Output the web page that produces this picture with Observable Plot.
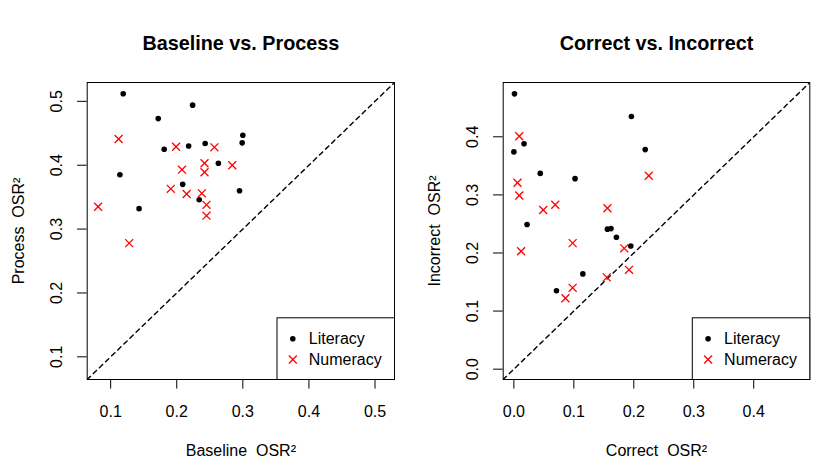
<!DOCTYPE html>
<html>
<head>
<meta charset="utf-8">
<script src="https://cdn.jsdelivr.net/npm/d3@7"></script>
<script src="https://cdn.jsdelivr.net/npm/@observablehq/plot@0.6"></script>
<style>
  html, body { margin: 0; padding: 0; background: white; }
  #wrap { display: flex; flex-direction: row; width: 830px; height: 467px; }
</style>
</head>
<body>
<div id="wrap"></div>
<script>
// ---- Panel 1: Baseline vs. Process ----
const litBaseline = [0.119, 0.224, 0.172, 0.300, 0.299, 0.181, 0.218, 0.243, 0.263, 0.114, 0.209, 0.295, 0.234, 0.143];
const litProcess  = [0.512, 0.494, 0.473, 0.447, 0.435, 0.425, 0.430, 0.434, 0.403, 0.385, 0.370, 0.360, 0.346, 0.332];
const numBaseline = [0.112, 0.199, 0.257, 0.242, 0.284, 0.208, 0.242, 0.191, 0.215, 0.238, 0.245, 0.081, 0.245, 0.128];
const numProcess  = [0.441, 0.429, 0.428, 0.403, 0.400, 0.393, 0.389, 0.363, 0.355, 0.356, 0.338, 0.335, 0.321, 0.278];

// ---- Panel 2: Correct vs. Incorrect ----
const litCorrect   = [0.001, 0.196, 0.017, 0.000, 0.219, 0.044, 0.102, 0.022, 0.156, 0.162, 0.171, 0.195, 0.115, 0.071];
const litIncorrect = [0.474, 0.435, 0.388, 0.374, 0.378, 0.337, 0.328, 0.249, 0.241, 0.242, 0.227, 0.212, 0.164, 0.135];
const numCorrect   = [0.009, 0.006, 0.009, 0.049, 0.069, 0.225, 0.156, 0.098, 0.012, 0.184, 0.192, 0.155, 0.098, 0.086];
const numIncorrect = [0.401, 0.321, 0.299, 0.274, 0.283, 0.333, 0.277, 0.217, 0.203, 0.208, 0.171, 0.158, 0.140, 0.122];

const ticks1 = [0.1, 0.2, 0.3, 0.4, 0.5];
const ticks2 = [0.0, 0.1, 0.2, 0.3, 0.4];
const domain1 = [0.0645, 0.5295];
const domain2 = [-0.0178, 0.4935];
const legendLabels = ["Literacy", "Numeracy"];

const FONT = "'Liberation Sans', Arial, Helvetica, sans-serif";
const fmt = d3.format(".1f");

function panel({title, xlab, ylab, litX, litY, numX, numY, ticks, domain, marginLeft, marginRight}) {
  const W = 415, H = 467, mt = 82, mb = 88;
  const innerW = W - marginLeft - marginRight;
  const lit = litX.map((x, i) => ({x, y: litY[i]}));
  const num = numX.map((x, i) => ({x, y: numY[i]}));
  const diag = [{v: domain[0]}, {v: domain[1]}];
  return Plot.plot({
    width: W, height: H,
    marginLeft, marginRight, marginTop: mt, marginBottom: mb,
    style: {fontFamily: FONT, fontSize: "16px", color: "black", background: "white", overflow: "visible"},
    x: {domain, nice: false},
    y: {domain, nice: false},
    marks: [
      // reference line y = x
      Plot.line(diag, {x: "v", y: "v", stroke: "black", strokeWidth: 1.4, strokeDasharray: "4.5,4", clip: true}),
      // points
      Plot.dot(lit, {x: "x", y: "y", r: 2.8, fill: "black", stroke: "none"}),
      Plot.dot(num, {x: "x", y: "y", r: 3.7, symbol: "times", stroke: "#ff0000", strokeWidth: 1.3}),
      // plot box
      Plot.frame({stroke: "black", strokeWidth: 1}),
      // axes
      Plot.axisX({ticks, tickSize: 9.6, tickPadding: 17, tickFormat: fmt, fontSize: 16, label: null, stroke: "black"}),
      Plot.axisY({ticks, tickSize: 9.6, tickFormat: () => "", label: null, stroke: "black"}),
      Plot.text(ticks, {y: d => d, text: d => fmt(d), frameAnchor: "left", dx: -25, rotate: -90,
        textAnchor: "middle", lineAnchor: "bottom", fontSize: 16, fill: "black"}),
      // axis titles
      Plot.text([xlab], {frameAnchor: "bottom", dy: 76, lineAnchor: "bottom", textAnchor: "middle", fontSize: 16, fill: "black"}),
      Plot.text([ylab], {frameAnchor: "left", dx: -63, rotate: -90, lineAnchor: "bottom", textAnchor: "middle", fontSize: 16, fill: "black"}),
      // title
      Plot.text([title], {frameAnchor: "top", dy: -33, lineAnchor: "bottom", textAnchor: "middle", fontSize: 19.8, fontWeight: "bold", fill: "black"}),
      // legend box
      Plot.frame({fill: "white", stroke: "black", strokeWidth: 1, insetLeft: innerW - 117.5, insetTop: 235.3}),
      Plot.dot([legendLabels[0]], {frameAnchor: "bottom-right", dx: -101.7, dy: -40.7, r: 2.8, fill: "black", stroke: "none"}),
      Plot.dot([legendLabels[1]], {frameAnchor: "bottom-right", dx: -101.7, dy: -20, r: 3.7, symbol: "times", stroke: "#ff0000", strokeWidth: 1.3}),
      Plot.text([legendLabels[0]], {frameAnchor: "bottom-right", dx: -85.7, dy: -40.7, textAnchor: "start", lineAnchor: "middle", fontSize: 16, fill: "black"}),
      Plot.text([legendLabels[1]], {frameAnchor: "bottom-right", dx: -85.7, dy: -20, textAnchor: "start", lineAnchor: "middle", fontSize: 16, fill: "black"})
    ]
  });
}

const wrap = document.getElementById("wrap");
wrap.appendChild(panel({
  title: "Baseline vs. Process", xlab: "Baseline  OSR²", ylab: "Process  OSR²",
  litX: litBaseline, litY: litProcess, numX: numBaseline, numY: numProcess,
  ticks: ticks1, domain: domain1, marginLeft: 86.7, marginRight: 21
}));
wrap.appendChild(panel({
  title: "Correct vs. Incorrect", xlab: "Correct  OSR²", ylab: "Incorrect  OSR²",
  litX: litCorrect, litY: litIncorrect, numX: numCorrect, numY: numIncorrect,
  ticks: ticks2, domain: domain2, marginLeft: 87.7, marginRight: 20.7
}));
</script>
</body>
</html>
